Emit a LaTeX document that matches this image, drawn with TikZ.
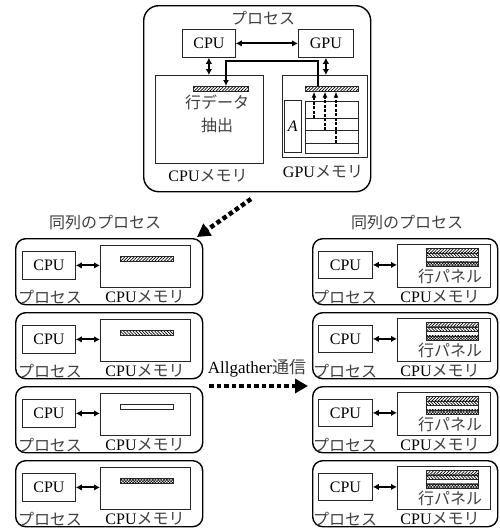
\documentclass[tikz,border=0pt]{standalone}
\usepackage{fontspec}
\setmainfont{Liberation Serif}
\newfontfamily\jp{Noto Sans CJK JP}
\usetikzlibrary{arrows.meta,patterns.meta}

\tikzset{
  outerbox/.style={draw, line width=1.4pt, rounded corners=10pt, inner sep=0pt},
  innerbox/.style={draw=black!85, line width=0.8pt, inner sep=0pt, anchor=north west},
  barbox/.style={draw=black!85, line width=0.6pt, inner sep=0pt, anchor=north west,
    minimum width=53pt, minimum height=5pt},
  pne/.style={pattern={Lines[angle=45,distance=2.2pt,line width=0.7pt]}},
  pnw/.style={pattern={Lines[angle=-45,distance=2.2pt,line width=0.7pt]}},
  pnone/.style={},
  pdots/.style={pattern={Hatch[angle=45,distance=2pt,line width=0.5pt]}},
  dbl/.style={{Latex[length=6pt,width=6.5pt]}-{Latex[length=6pt,width=6.5pt]}, line width=1.9pt},
  feed/.style={line width=1.4pt, -{Latex[length=6pt,width=6pt]}},
  dasharr/.style={line width=1.2pt, dash pattern=on 3pt off 1.5pt, -{Latex[length=6pt,width=5pt]}},
  bigdot/.style={line width=4.5pt, dash pattern=on 4.5pt off 3pt,
    -{Triangle[length=13pt,width=14pt]}},
  lbl/.style={inner sep=0pt},
  jptxt/.style={inner sep=0pt, text=black!75, font=\fontsize{16}{18}\selectfont\jp},
}

% one process of the left column: CPU, its memory and a single row bar
\newcommand\leftproc[4]{%
  \begin{scope}[shift={(#2,#3)}, name prefix=#1-]
    \node[outerbox, anchor=north west, minimum width=187pt, minimum height=66pt] (box) at (0,0) {};
    \node[innerbox, minimum width=53pt, minimum height=28pt] (cpu) at (7,13) {};
    \node[lbl] at (cpu.center) {CPU};
    \node[innerbox, minimum width=90pt, minimum height=42pt] (mem) at (85,7) {};
    \node[barbox, #4] (bar) at (105,18) {};
    \draw[dbl] (cpu.east) -- (mem.west |- cpu.east);
    \node[jptxt] (plbl) at (35,59) {プロセス};
    \node[lbl] (mlbl) at (130,59) {CPU{\jp\color{black!75}メモリ}};
  \end{scope}}

% one process of the right column: CPU and its memory holding the row panel
\newcommand\rightproc[3]{%
  \begin{scope}[shift={(#2,#3)}, name prefix=#1-]
    \node[outerbox, anchor=north west, minimum width=185pt, minimum height=66pt] (box) at (0,0) {};
    \node[innerbox, minimum width=54pt, minimum height=27pt] (cpu) at (6,13) {};
    \node[lbl] at (cpu.center) {CPU};
    \node[innerbox, minimum width=93pt, minimum height=43pt] (mem) at (85,6) {};
    \node[barbox, pne, minimum height=4.5pt, minimum width=52pt] (r1) at (114,10) {};
    \node[barbox, pnw, minimum height=4.5pt, minimum width=52pt] (r2) at (114,14.5) {};
    \node[barbox, minimum height=4.5pt, minimum width=52pt] (r3) at (114,19) {};
    \node[barbox, pdots, minimum height=4.5pt, minimum width=52pt] (r4) at (114,23.5) {};
    \node[jptxt] (panel) at (138,38) {行パネル};
    \draw[dbl] (cpu.east) -- (mem.west |- cpu.east);
    \node[jptxt] (plbl) at (33,59) {プロセス};
    \node[lbl] (mlbl) at (128,59) {CPU{\jp\color{black!75}メモリ}};
  \end{scope}}

\begin{document}
\begin{tikzpicture}[x=1pt, y=-1pt, font=\fontsize{16}{18}\selectfont]
\useasboundingbox (0,0) rectangle (500,528);

% ---- the single process with CPU and GPU ----
\node[outerbox, rounded corners=15pt, anchor=north west, minimum width=227pt, minimum height=186pt] (proc) at (143,5) {};
\node[jptxt] (ptitle) at (263,18) {プロセス};
\node[innerbox, minimum width=53pt, minimum height=28pt] (cpu) at (182,29) {};
\node[lbl] at (cpu.center) {CPU};
\node[innerbox, minimum width=55pt, minimum height=28pt] (gpu) at (298,29) {};
\node[lbl] at (gpu.center) {GPU};
\draw[dbl] (cpu.east) -- (gpu.west);

\node[innerbox, minimum width=108pt, minimum height=88pt] (cpumem) at (155,75) {};
\node[innerbox, minimum width=85pt, minimum height=82pt] (gpumem) at (282,75) {};
\node[lbl] (cpumemlbl) at (208,176) {CPU{\jp\color{black!75}メモリ}};
\node[lbl] (gpumemlbl) at (323,172) {GPU{\jp\color{black!75}メモリ}};

\draw[dbl] (cpu.south) -- (cpu.south |- cpumem.north);
\draw[dbl] (gpu.south) -- (gpu.south |- gpumem.north);

\node[barbox, pne, minimum width=55pt] (cbar) at (193,86) {};
\node[barbox, pne, minimum width=53pt] (gbar) at (305,86) {};

\coordinate (gsrc) at ([xshift=13pt]gbar.north west);
\coordinate (ctgt) at ([xshift=33pt]cbar.north west);
\draw[feed] (gsrc) -- ++(0,-25) -| (ctgt);

\node[jptxt] (extract1) at (217,102) {行データ};
\node[jptxt] (extract2) at (217,125) {抽出};

\node[innerbox, minimum width=17pt, minimum height=52pt] (amat) at (284,100) {};
\node[lbl] at (amat.center) {\textit{A}};
\node[innerbox, minimum width=53pt, minimum height=52pt] (grid) at (305,101) {};
\draw[black!85, line width=0.8pt]
  (grid.west |- 0,118) -- (grid.east |- 0,118)
  (grid.west |- 0,130) -- (grid.east |- 0,130)
  (grid.west |- 0,143) -- (grid.east |- 0,143);
\coordinate (g1) at (314,118);
\coordinate (g2) at (325,130);
\coordinate (g3) at (336,143);
\draw[dasharr] (g1) -- (g1 |- gbar.south);
\draw[dasharr] (g2) -- (g2 |- gbar.south);
\draw[dasharr] (g3) -- (g3 |- gbar.south);

% ---- processes of the same column ----
\node[jptxt] (lhead) at (105,223) {同列のプロセス};
\node[jptxt] (rhead) at (407,223) {同列のプロセス};

\leftproc{L1}{15}{238}{pne}
\leftproc{L2}{15}{312}{pnw}
\leftproc{L3}{15}{386}{pnone}
\leftproc{L4}{15}{460}{pdots}

\rightproc{R1}{312}{238}
\rightproc{R2}{312}{312}
\rightproc{R3}{312}{386}
\rightproc{R4}{312}{460}

% ---- data flow arrows ----
\coordinate (dstart) at (251,199);
\coordinate (dend) at (197,237);
\draw[bigdot] (dstart) -- (dend);

\node[lbl, font=\fontsize{17}{19}\selectfont] (aglbl) at (257,368) {Allgather{\jp\color{black!75}通信}};
\coordinate (astart) at (209,386);
\coordinate (aend) at (308,386);
\draw[bigdot] (astart) -- (aend);
\end{tikzpicture}
\end{document}
